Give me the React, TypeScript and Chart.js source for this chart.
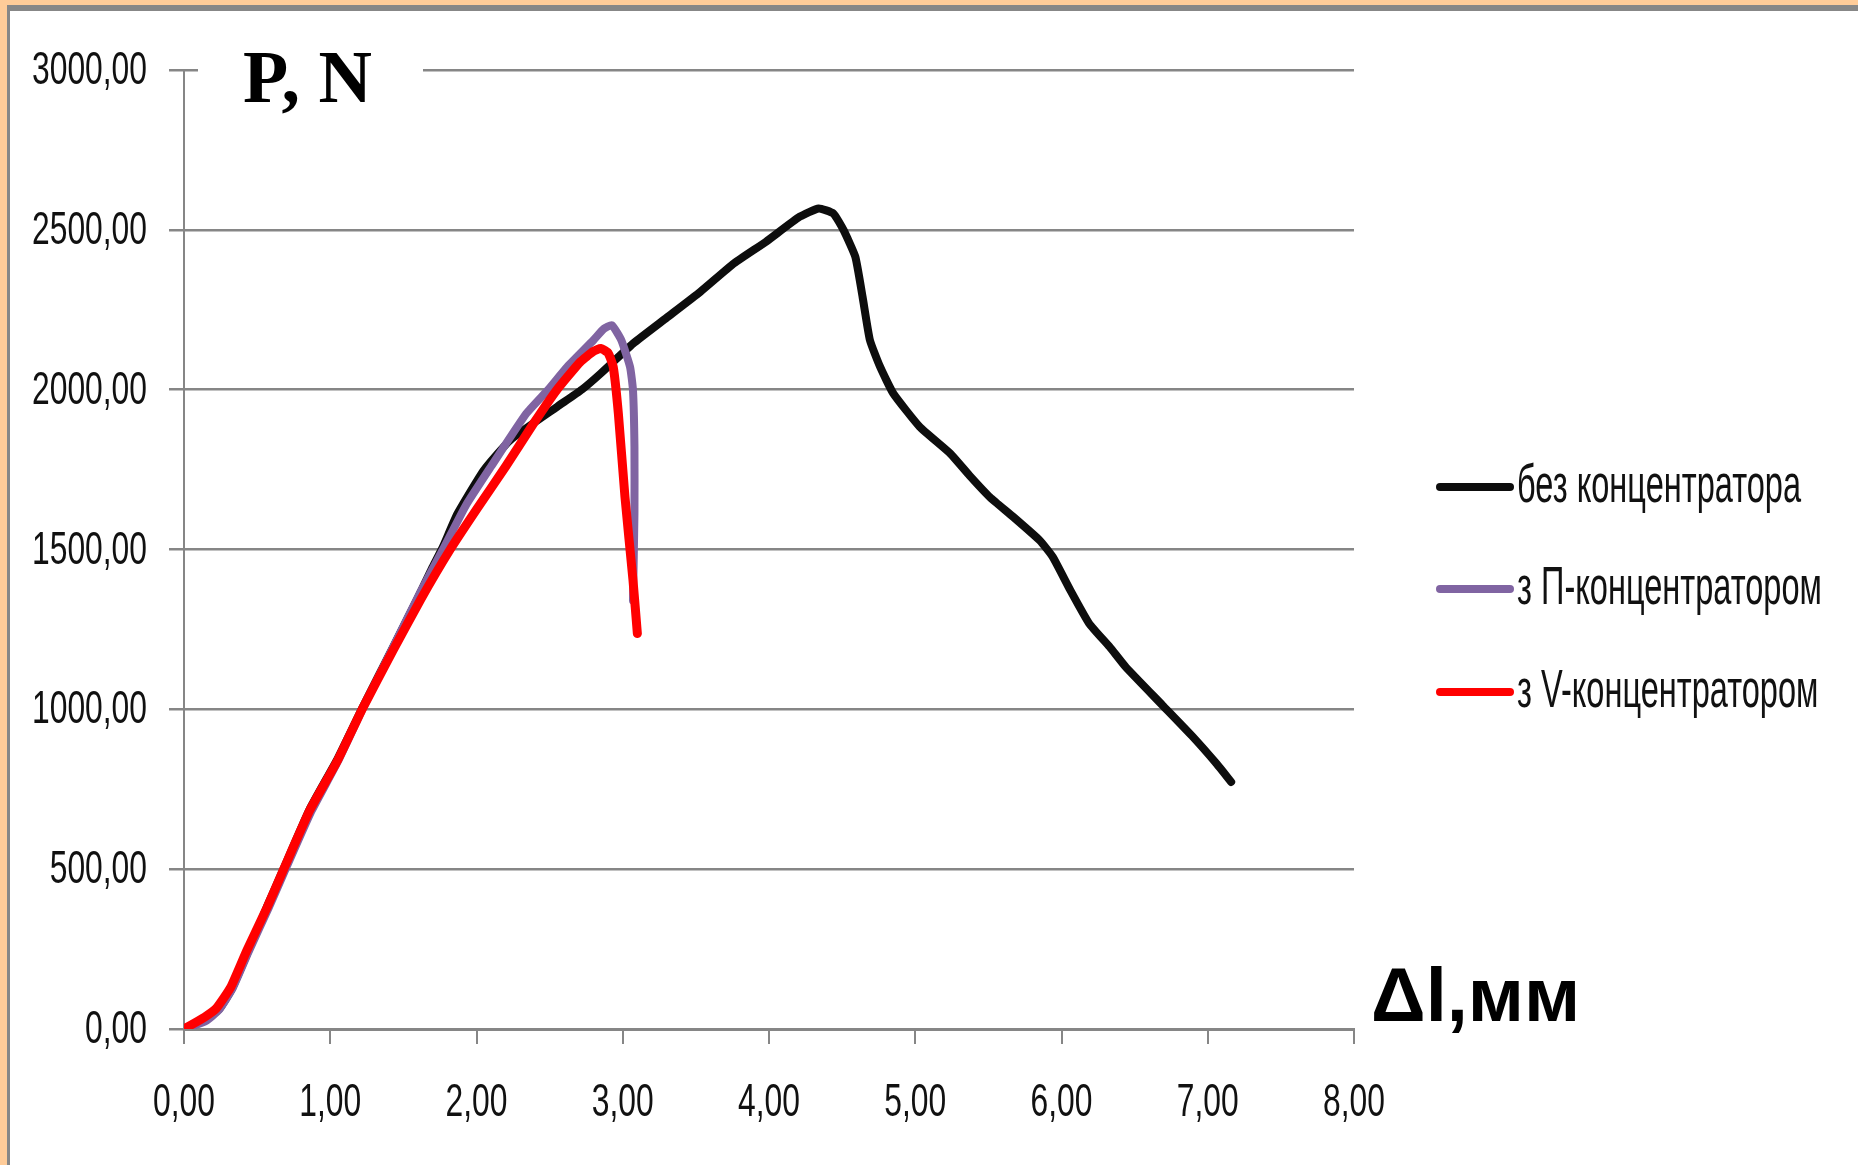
import React, { useEffect, useRef } from "react";
import { Chart, registerables } from "chart.js";

Chart.register(...registerables);

// ---- data ----
const seriesNames = ["без концентратора", "з П-концентратором", "з V-концентратором"];
const seriesColors = ["#0d0d0d", "#8064A2", "#FF0000"];

const xTickLabels = ["0,00", "1,00", "2,00", "3,00", "4,00", "5,00", "6,00", "7,00", "8,00"];
const yTickLabels = ["0,00", "500,00", "1000,00", "1500,00", "2000,00", "2500,00", "3000,00"];

const blackX = [0, 0.15, 0.24, 0.33, 0.44, 0.57, 0.68, 0.86, 1.05, 1.22, 1.43, 1.6, 1.7, 1.77, 1.87, 2.05, 2.23, 2.55, 2.72, 2.85, 3.07, 3.3, 3.53, 3.76, 3.98, 4.21, 4.34, 4.44, 4.51, 4.59, 4.64, 4.69, 4.76, 4.85, 5.03, 5.24, 5.37, 5.51, 5.67, 5.85, 5.94, 6.06, 6.19, 6.33, 6.44, 6.69, 6.9, 7.06, 7.16];
const blackY = [0, 30, 62, 128, 244, 385, 500, 688, 845, 1005, 1195, 1350, 1445, 1508, 1612, 1748, 1842, 1946, 2000, 2051, 2144, 2225, 2306, 2395, 2463, 2541, 2567, 2551, 2499, 2416, 2290, 2155, 2071, 1988, 1884, 1800, 1732, 1664, 1602, 1529, 1477, 1373, 1268, 1195, 1132, 1013, 913, 830, 773];

const purpleX = [0, 0.15, 0.24, 0.33, 0.44, 0.58, 0.69, 0.87, 1.05, 1.22, 1.43, 1.62, 1.78, 1.93, 2.1, 2.34, 2.49, 2.62, 2.8, 2.87, 2.925, 2.99, 3.05, 3.07, 3.08, 3.08, 3.07];
const purpleY = [0, 25, 60, 125, 240, 380, 495, 680, 835, 1000, 1195, 1370, 1508, 1640, 1760, 1925, 2000, 2071, 2155, 2190, 2202, 2155, 2071, 1998, 1821, 1612, 1341];

const redX = [0, 0.14, 0.22, 0.32, 0.43, 0.57, 0.68, 0.86, 1.05, 1.22, 1.43, 1.62, 1.82, 2.0, 2.2, 2.39, 2.55, 2.71, 2.8, 2.85, 2.9, 2.935, 2.97, 3.015, 3.07, 3.1];
const redY = [0, 37, 64, 131, 246, 382, 498, 684, 840, 1002, 1185, 1345, 1500, 1625, 1760, 1894, 2000, 2087, 2120, 2129, 2115, 2071, 1925, 1665, 1404, 1237];

const yAxisTitle = "P, N";
const xAxisTitle = "Δl,мм";

const W = 1858;
const H = 1165;

function toPoints(xs: number[], ys: number[]) {
  return xs.map((x, i) => ({ x, y: ys[i] }));
}

export default function App() {
  const ref = useRef<HTMLCanvasElement>(null);

  useEffect(() => {
    const canvas = ref.current;
    if (!canvas) return;

    const condensedText = (
      ctx: CanvasRenderingContext2D,
      text: string,
      x: number,
      y: number,
      sx: number,
      align: CanvasTextAlign
    ) => {
      ctx.save();
      ctx.translate(x, y);
      ctx.scale(sx, 1);
      ctx.textAlign = align;
      ctx.textBaseline = "alphabetic";
      ctx.fillText(text, 0, 0);
      ctx.restore();
    };

    const decor = {
      id: "decor",
      beforeDraw(chart: any) {
        const ctx: CanvasRenderingContext2D = chart.ctx;
        ctx.save();
        ctx.fillStyle = "#FFCC99";
        ctx.fillRect(0, 0, W, H);
        ctx.fillStyle = "#878787";
        ctx.fillRect(7, 5, W - 7, H - 5);
        ctx.fillStyle = "#ffffff";
        ctx.fillRect(10, 11, W - 10, H - 11);
        ctx.restore();
      },
      afterDraw(chart: any) {
        const ctx: CanvasRenderingContext2D = chart.ctx;
        const xs = chart.scales.x;
        const ys = chart.scales.y;
        ctx.save();
        ctx.fillStyle = "#111111";

        // tick labels (condensed)
        ctx.font = "47px 'Liberation Sans', Arial, sans-serif";
        const sx = 115 / ctx.measureText("3000,00").width;
        ys.ticks.forEach((t: any, i: number) => {
          const py = ys.getPixelForValue(t.value);
          condensedText(ctx, yTickLabels[i] ?? "", 147, py + 14, sx, "right");
        });
        xs.ticks.forEach((t: any, i: number) => {
          const px = xs.getPixelForValue(t.value);
          condensedText(ctx, xTickLabels[i] ?? "", px, 1116, sx, "center");
        });

        // y-axis title with white box
        ctx.fillStyle = "#ffffff";
        ctx.fillRect(198, 20, 225, 110);
        ctx.fillStyle = "#000000";
        ctx.font = "bold 74px 'Liberation Serif', 'Times New Roman', serif";
        ctx.textAlign = "left";
        ctx.textBaseline = "alphabetic";
        ctx.fillText(yAxisTitle, 243, 102);

        // x-axis title
        ctx.font = "bold 76px 'Liberation Sans', Arial, sans-serif";
        ctx.fillText(xAxisTitle, 1371, 1021);

        // legend
        const rows = [487, 589, 692];
        ctx.font = "54px 'Liberation Sans', Arial, sans-serif";
        const lsx = 284 / ctx.measureText(seriesNames[0]).width;
        seriesNames.forEach((name, i) => {
          const y = rows[i];
          ctx.strokeStyle = seriesColors[i];
          ctx.lineWidth = 8;
          ctx.lineCap = "round";
          ctx.beginPath();
          ctx.moveTo(1440, y);
          ctx.lineTo(1510, y);
          ctx.stroke();
          ctx.fillStyle = "#111111";
          condensedText(ctx, name, 1517, y + 15, lsx, "left");
        });
        ctx.restore();
      },
    };

    const chart = new Chart(canvas, {
      type: "scatter",
      data: {
        datasets: [
          {
            label: seriesNames[2],
            data: toPoints(redX, redY),
            borderColor: seriesColors[2],
            backgroundColor: seriesColors[2],
            borderWidth: 9,
            showLine: true,
            pointRadius: 0,
            tension: 0.15,
            borderCapStyle: "round",
            borderJoinStyle: "round",
          },
          {
            label: seriesNames[1],
            data: toPoints(purpleX, purpleY),
            borderColor: seriesColors[1],
            backgroundColor: seriesColors[1],
            borderWidth: 8,
            showLine: true,
            pointRadius: 0,
            tension: 0.15,
            borderCapStyle: "round",
            borderJoinStyle: "round",
          },
          {
            label: seriesNames[0],
            data: toPoints(blackX, blackY),
            borderColor: seriesColors[0],
            backgroundColor: seriesColors[0],
            borderWidth: 8,
            showLine: true,
            pointRadius: 0,
            tension: 0.15,
            borderCapStyle: "round",
            borderJoinStyle: "round",
          },
        ],
      },
      options: {
        responsive: false,
        animation: false,
        devicePixelRatio: 1,
        layout: { padding: { left: 0, top: 70, right: 504, bottom: 0 } },
        plugins: {
          legend: { display: false },
          title: { display: false },
          tooltip: { enabled: false },
        },
        scales: {
          x: {
            type: "linear",
            min: 0,
            max: 8,
            ticks: { stepSize: 1, display: false },
            grid: {
              drawOnChartArea: false,
              drawTicks: true,
              tickLength: 15,
              color: "#868686",
              lineWidth: 2,
            },
            border: { display: true, color: "#868686", width: 3 },
            afterFit: (s: any) => {
              s.height = H - 1029;
            },
          },
          y: {
            type: "linear",
            min: 0,
            max: 3000,
            ticks: { stepSize: 500, display: false },
            grid: {
              drawOnChartArea: true,
              drawTicks: true,
              tickLength: 15,
              color: "#868686",
              lineWidth: 2.5,
            },
            border: { display: true, color: "#868686", width: 2 },
            afterFit: (s: any) => {
              s.width = 184;
            },
          },
        },
      },
      plugins: [decor],
    } as any);

    return () => {
      chart.destroy();
    };
  }, []);

  return (
    <div style={{ position: "fixed", left: 0, top: 0, width: W, height: H }}>
      <canvas ref={ref} width={W} height={H} style={{ display: "block", width: W, height: H }} />
    </div>
  );
}
